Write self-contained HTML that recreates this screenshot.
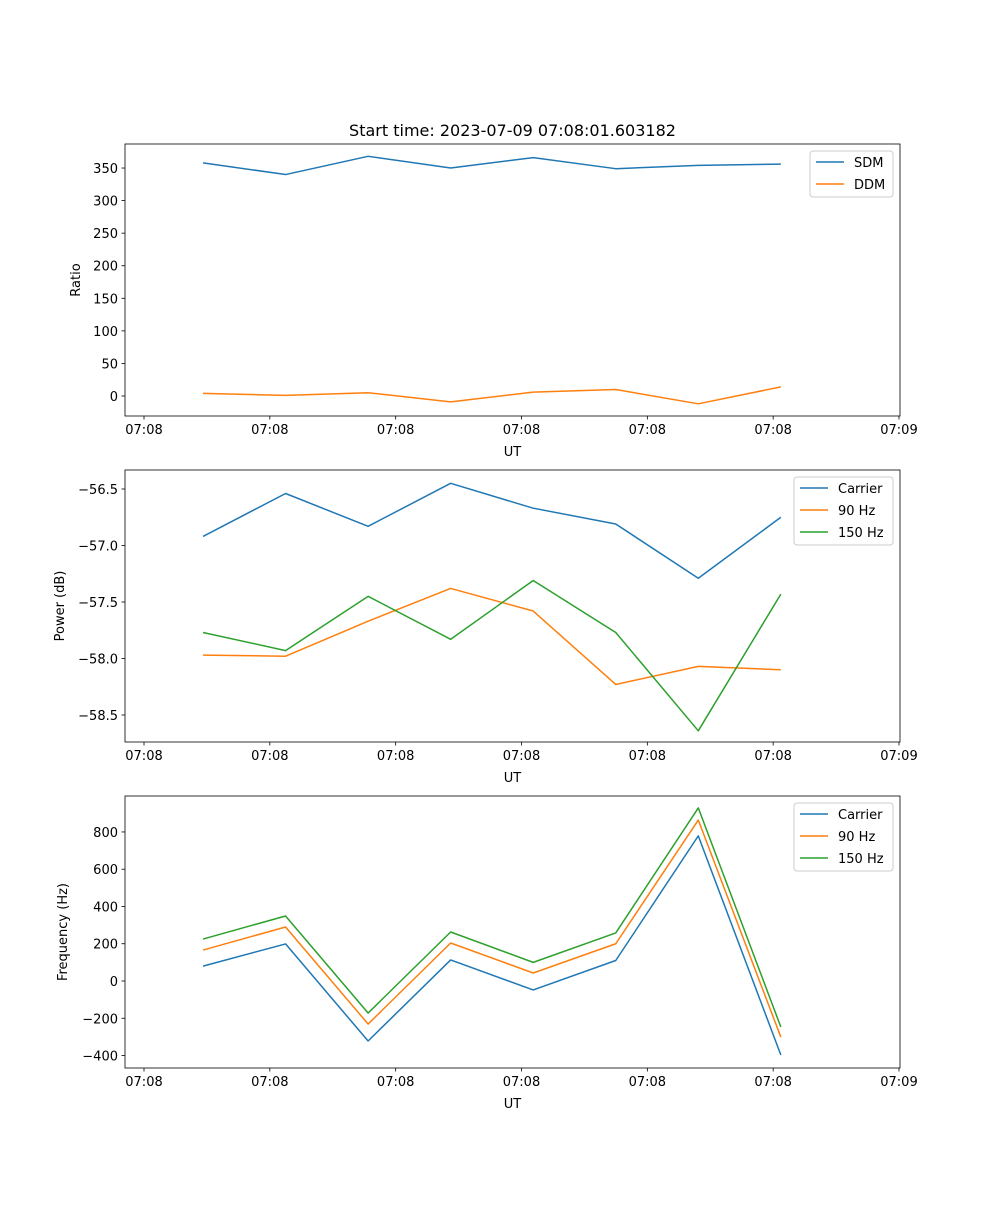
<!DOCTYPE html>
<html><head><meta charset="utf-8"><style>
html,body{margin:0;padding:0;background:#fff;}
svg text{font-family:"DejaVu Sans","Liberation Sans",sans-serif;fill:#000;}
</style></head><body>
<svg id="fig" width="1000" height="1200" viewBox="0 0 1000 1200" xmlns="http://www.w3.org/2000/svg"></svg>
<script>
// shared x data (seconds after 07:08:00)
const times = [4.69, 11.25, 17.81, 24.37, 30.93, 37.49, 44.05, 50.61];
const xTicks = [0, 10, 20, 30, 40, 50, 60];
const xTickLabels = ["07:08","07:08","07:08","07:08","07:08","07:08","07:09"];
// panel 1
const ratioTicks = [0, 50, 100, 150, 200, 250, 300, 350];
const sdm = [358, 340, 368, 350, 366, 349, 354, 356];
const ddm = [4, 1, 5, -9, 6, 10, -12, 14];
// panel 2
const powerTicks = [-58.5, -58.0, -57.5, -57.0, -56.5];
const powerCarrier = [-56.92, -56.54, -56.83, -56.45, -56.67, -56.81, -57.29, -56.75];
const power90 = [-57.97, -57.98, -57.67, -57.38, -57.58, -58.23, -58.07, -58.10];
const power150 = [-57.77, -57.93, -57.45, -57.83, -57.31, -57.77, -58.64, -57.43];
// panel 3
const freqTicks = [-400, -200, 0, 200, 400, 600, 800];
const freqCarrier = [80, 199, -322, 113, -48, 110, 779, -397];
const freq90 = [166, 290, -231, 204, 43, 200, 864, -301];
const freq150 = [225, 349, -172, 263, 100, 258, 929, -247];

const NS = "http://www.w3.org/2000/svg";
const svg = document.getElementById('fig');
function mk(tag, attrs, parent){
  const e = document.createElementNS(NS, tag);
  for (const k in attrs) e.setAttribute(k, attrs[k]);
  (parent||svg).appendChild(e); return e;
}
const L = 125, R = 900, xMin = -1.51, xMax = 60.08;
const xs = v => L + (v - xMin) / (xMax - xMin) * (R - L);
const C = ["#1f77b4", "#ff7f0e", "#2ca02c"];

function panel(name, top, bottom, yMin, yMax, ticks, fmt, ylabel, ylabelX, series, legendW){
  const g = mk('g', {});
  
  
  const ys = v => bottom - (v - yMin) / (yMax - yMin) * (bottom - top);
  series.forEach((s, si) => {
    const pl = mk('polyline', {points: s.data.map((v,i)=>xs(times[i]).toFixed(2)+','+ys(v).toFixed(2)).join(' '), fill:'none', stroke:C[si], 'stroke-width':1.5, 'stroke-linejoin':'round'}, g);
    
    
  });
  const fr = mk('rect', {x:L, y:top, width:R-L, height:bottom-top, fill:'none', stroke:'#000', 'stroke-width':0.8}, g);
  
  
  xTicks.forEach((t,i)=>{
    const x = xs(t);
    mk('line', {x1:x, x2:x, y1:bottom, y2:bottom+3.5, stroke:'#000', 'stroke-width':0.8}, g);
    const tx = mk('text', {x:x, y:bottom+18, 'text-anchor':'middle', 'font-size':13}, g);
    tx.textContent = xTickLabels[i];
    
    
  });
  const xl = mk('text', {x:(L+R)/2, y:bottom+40, 'text-anchor':'middle', 'font-size':13}, g);
  xl.textContent = 'UT';
  
  
  ticks.forEach(t=>{
    const y = ys(t);
    mk('line', {x1:L-3.5, x2:L, y1:y, y2:y, stroke:'#000', 'stroke-width':0.8}, g);
    const tx = mk('text', {x:L-7, y:y+5, 'text-anchor':'end', 'font-size':13}, g);
    tx.textContent = fmt(t);
    
    
  });
  const yl = mk('text', {x:ylabelX, y:(top+bottom)/2, 'text-anchor':'middle', 'font-size':13, transform:`rotate(-90 ${ylabelX} ${(top+bottom)/2})`}, g);
  yl.textContent = ylabel;
  
  
  // legend
  const lx = R - 7 - legendW, ly = top + 7, lh = 2 + series.length * 22;
  const lg = mk('g', {}, g);
  
  
  mk('rect', {x:lx, y:ly, width:legendW, height:lh, rx:3, fill:'#fff', 'fill-opacity':0.8, stroke:'#ccc', 'stroke-width':1}, lg);
  series.forEach((s, si)=>{
    const yy = ly + 11 + si*22;
    const e = mk('g', {}, lg);
    
    
    mk('line', {x1:lx+6, x2:lx+34, y1:yy, y2:yy, stroke:C[si], 'stroke-width':1.5}, e);
    const t = mk('text', {x:lx+44, y:yy+5, 'font-size':13}, e);
    t.textContent = s.label;
  });
}

const title = mk('text', {x:512.5, y:136, 'text-anchor':'middle', 'font-size':16});
title.textContent = 'Start time: 2023-07-09 07:08:01.603182';



panel('ratio-panel', 144, 416, -30.7, 386.9, ratioTicks, v=>String(v), 'Ratio', 80,
  [{key:'sdm', label:'SDM', data:sdm}, {key:'ddm', label:'DDM', data:ddm}], 83);
panel('power-panel', 470, 742, -58.739, -56.332, powerTicks, v=>(v<0?'\u2212':'')+Math.abs(v).toFixed(1), 'Power (dB)', 64,
  [{key:'carrier', label:'Carrier', data:powerCarrier}, {key:'90hz', label:'90 Hz', data:power90}, {key:'150hz', label:'150 Hz', data:power150}], 99);
panel('frequency-panel', 796, 1068, -467, 993, freqTicks, v=>(v<0?'\u2212':'')+Math.abs(v), 'Frequency (Hz)', 67,
  [{key:'carrier', label:'Carrier', data:freqCarrier}, {key:'90hz', label:'90 Hz', data:freq90}, {key:'150hz', label:'150 Hz', data:freq150}], 99);
</script>
</body></html>
